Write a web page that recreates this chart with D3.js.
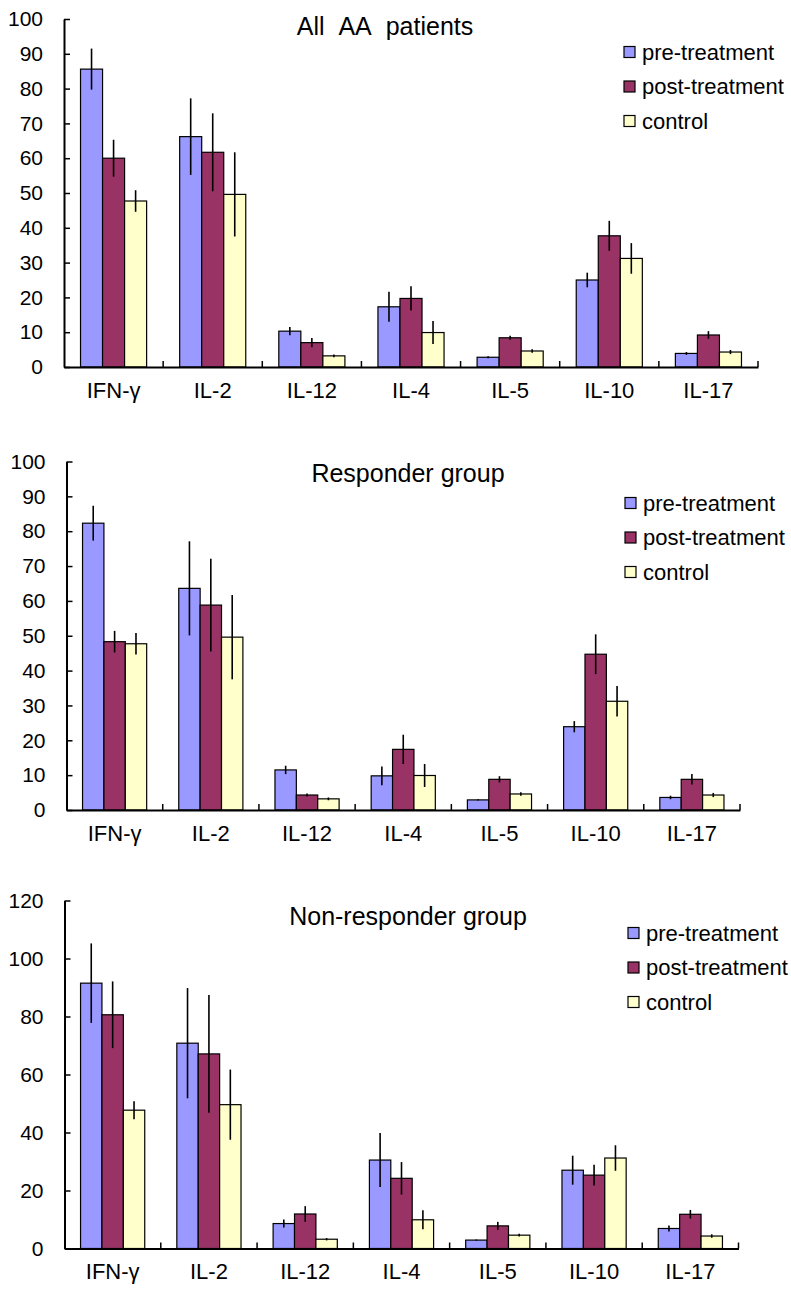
<!DOCTYPE html>
<html>
<head>
<meta charset="utf-8">
<script src="https://cdn.jsdelivr.net/npm/d3@7"></script>
<style>
  body { margin: 0; background: #fff; }
  text { font-family: "Liberation Sans", Arial, sans-serif; fill: #000; }
</style>
</head>
<body>
<div id="chart"></div>
<script>
// Kategori sitokin
const categories = ["IFN-γ", "IL-2", "IL-12", "IL-4", "IL-5", "IL-10", "IL-17"];
const seriesNames = ["pre-treatment", "post-treatment", "control"];
const seriesColors = ["#9999ff", "#993366", "#ffffcc"];

// Kontrol sama di ketiga panel
const control = [47.7, 49.6, 3.2, 9.9, 4.6, 31.2, 4.3];
const controlErr = [3.1, 12.1, 0.4, 3.3, 0.5, 4.4, 0.6];

// All AA patients
const allPre = [85.6, 66.2, 10.3, 17.3, 2.8, 25.0, 3.9];
const allPreErr = [5.9, 11.0, 1.2, 4.3, 0.3, 2.1, 0.4];
const allPost = [60.0, 61.7, 7.0, 19.7, 8.4, 37.7, 9.2];
const allPostErr = [5.3, 11.2, 1.3, 3.5, 0.6, 4.3, 1.1];

// Responder group
const respPre = [82.3, 63.6, 11.5, 9.8, 2.9, 23.9, 3.6];
const respPreErr = [5.0, 13.5, 1.2, 2.7, 0.2, 1.6, 0.5];
const respPost = [48.3, 58.8, 4.3, 17.4, 8.8, 44.7, 8.8];
const respPostErr = [3.1, 13.3, 0.4, 4.2, 0.9, 5.7, 1.5];

// Non-responder group
const nonPre = [91.5, 70.8, 8.6, 30.5, 2.9, 27.0, 6.9];
const nonPreErr = [13.7, 19.0, 1.4, 9.3, 0.2, 5.0, 1.0];
const nonPost = [80.6, 67.1, 11.9, 24.2, 7.8, 25.3, 11.8];
const nonPostErr = [11.5, 20.3, 2.7, 5.6, 1.4, 3.6, 1.5];

const yTicksA = [0, 10, 20, 30, 40, 50, 60, 70, 80, 90, 100];
const yTicksC = [0, 20, 40, 60, 80, 100, 120];

const svg = d3.select("#chart").append("svg")
  .attr("width", 791).attr("height", 1289);

// Tata letak tiap panel
const panels = [
  { title: "All\u00a0\u00a0AA\u00a0\u00a0patients", pre: allPre, preErr: allPreErr, post: allPost, postErr: allPostErr,
    yMax: 100, ticks: yTicksA, x0: 64, x1: 758, yTop: 19, yBottom: 367, titleX: 385, titleY: 35, legX: 624, legY: 52 },
  { title: "Responder group", pre: respPre, preErr: respPreErr, post: respPost, postErr: respPostErr,
    yMax: 100, ticks: yTicksA, x0: 66.5, x1: 740, yTop: 461.5, yBottom: 810, titleX: 408, titleY: 482, legX: 625, legY: 503 },
  { title: "Non-responder group", pre: nonPre, preErr: nonPreErr, post: nonPost, postErr: nonPostErr,
    yMax: 120, ticks: yTicksC, x0: 64.5, x1: 738.5, yTop: 900.5, yBottom: 1248.5, titleX: 408, titleY: 925, legX: 628, legY: 933 }
];

panels.forEach((p) => {
  const g = svg.append("g");

  const x = d3.scaleBand().domain(categories).range([p.x0, p.x1]).padding(0);
  const bw = x.bandwidth();
  const gap = bw * 1.5 / 4.5;
  const xs = d3.scaleBand().domain(seriesNames).range([gap / 2, bw - gap / 2]).padding(0);
  const y = d3.scaleLinear().domain([0, p.yMax]).range([p.yBottom, p.yTop]);

  const vals = [p.pre, p.post, control];
  const errs = [p.preErr, p.postErr, controlErr];

  // Batang
  seriesNames.forEach((s, si) => {
    g.selectAll(null)
      .data(categories)
      .enter()
      .append("rect")
      .attr("x", (c) => x(c) + xs(s))
      .attr("y", (c, i) => y(vals[si][i]))
      .attr("width", xs.bandwidth())
      .attr("height", (c, i) => y(0) - y(vals[si][i]))
      .attr("fill", seriesColors[si])
      .attr("stroke", "#000")
      .attr("stroke-width", 1.2);

    // Error bar
    g.selectAll(null)
      .data(categories)
      .enter()
      .append("line")
      .attr("x1", (c) => x(c) + xs(s) + xs.bandwidth() / 2)
      .attr("x2", (c) => x(c) + xs(s) + xs.bandwidth() / 2)
      .attr("y1", (c, i) => y(vals[si][i] + errs[si][i]))
      .attr("y2", (c, i) => y(vals[si][i] - errs[si][i]))
      .attr("stroke", "#000")
      .attr("stroke-width", 1.6);
  });

  // Sumbu Y
  const yAxis = g.append("g")
    .attr("transform", `translate(${p.x0},0)`)
    .call(d3.axisLeft(y).tickValues(p.ticks).tickSize(-6).tickPadding(21).tickSizeOuter(0));
  yAxis.select(".domain").attr("stroke-width", 2);
  yAxis.selectAll(".tick line").attr("stroke-width", 1.5);
  yAxis.selectAll("text").style("font-size", "21px").attr("fill", "#000");

  // Sumbu X
  const xAxis = g.append("g")
    .attr("transform", `translate(0,${p.yBottom})`)
    .call(d3.axisBottom(x).tickSize(0).tickPadding(15).tickSizeOuter(0));
  xAxis.select(".domain").attr("stroke-width", 2);
  xAxis.selectAll("text").style("font-size", "22px").attr("fill", "#000");

  // Tanda pemisah kategori
  g.selectAll(null)
    .data(categories.slice(1).map((c) => x(c)).concat([p.x1]))
    .enter()
    .append("line")
    .attr("x1", (d) => d).attr("x2", (d) => d)
    .attr("y1", p.yBottom).attr("y2", p.yBottom - 6)
    .attr("stroke", "#000").attr("stroke-width", 1.5);

  // Judul
  g.append("text")
    .attr("x", p.titleX).attr("y", p.titleY)
    .attr("text-anchor", "middle")
    .style("font-size", "25px")
    .text(p.title);

  // Legenda
  seriesNames.forEach((s, si) => {
    const ly = p.legY + si * 34.5;
    g.append("rect")
      .attr("x", p.legX).attr("y", ly - 5.5)
      .attr("width", 11).attr("height", 11)
      .attr("fill", seriesColors[si])
      .attr("stroke", "#000").attr("stroke-width", 1.2);
    g.append("text")
      .attr("x", p.legX + 18).attr("y", ly + 7.5)
      .style("font-size", "22px")
      .text(s);
  });
});
</script>
</body>
</html>
